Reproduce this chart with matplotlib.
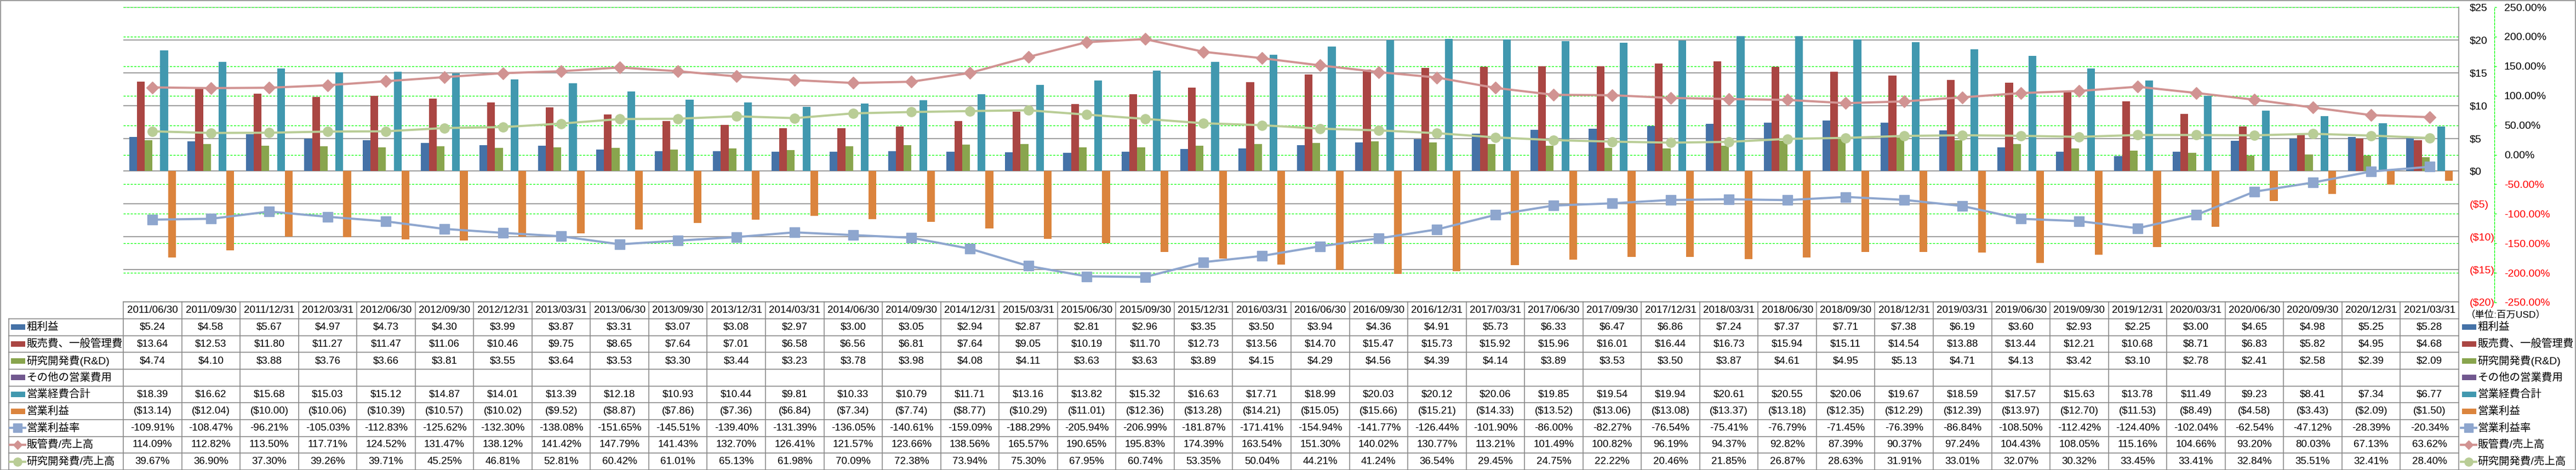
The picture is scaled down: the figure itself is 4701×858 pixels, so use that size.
import matplotlib
matplotlib.use('Agg')
import matplotlib.pyplot as plt
from matplotlib.transforms import blended_transform_factory
from matplotlib.lines import Line2D
from matplotlib.patches import Rectangle
import numpy as np

plt.rcParams['font.family'] = ['Liberation Sans', 'Noto Sans CJK JP', 'DejaVu Sans']

dates = ["2011/06/30", "2011/09/30", "2011/12/31", "2012/03/31", "2012/06/30", "2012/09/30",
         "2012/12/31", "2013/03/31", "2013/06/30", "2013/09/30", "2013/12/31", "2014/03/31",
         "2014/06/30", "2014/09/30", "2014/12/31", "2015/03/31", "2015/06/30", "2015/09/30",
         "2015/12/31", "2016/03/31", "2016/06/30", "2016/09/30", "2016/12/31", "2017/03/31",
         "2017/06/30", "2017/09/30", "2017/12/31", "2018/03/31", "2018/06/30", "2018/09/30",
         "2018/12/31", "2019/03/31", "2019/06/30", "2019/09/30", "2019/12/31", "2020/03/31",
         "2020/06/30", "2020/09/30", "2020/12/31", "2021/03/31"]

gross_profit = [5.24, 4.58, 5.67, 4.97, 4.73, 4.30, 3.99, 3.87, 3.31, 3.07, 3.08, 2.97, 3.00, 3.05,
                2.94, 2.87, 2.81, 2.96, 3.35, 3.50, 3.94, 4.36, 4.91, 5.73, 6.33, 6.47, 6.86, 7.24,
                7.37, 7.71, 7.38, 6.19, 3.60, 2.93, 2.25, 3.00, 4.65, 4.98, 5.25, 5.28]
sga = [13.64, 12.53, 11.80, 11.27, 11.47, 11.06, 10.46, 9.75, 8.65, 7.64, 7.01, 6.58, 6.56, 6.81,
       7.64, 9.05, 10.19, 11.70, 12.73, 13.56, 14.70, 15.47, 15.73, 15.92, 15.96, 16.01, 16.44,
       16.73, 15.94, 15.11, 14.54, 13.88, 13.44, 12.21, 10.68, 8.71, 6.83, 5.82, 4.95, 4.68]
rnd = [4.74, 4.10, 3.88, 3.76, 3.66, 3.81, 3.55, 3.64, 3.53, 3.30, 3.44, 3.23, 3.78, 3.98, 4.08,
       4.11, 3.63, 3.63, 3.89, 4.15, 4.29, 4.56, 4.39, 4.14, 3.89, 3.53, 3.50, 3.87, 4.61, 4.95,
       5.13, 4.71, 4.13, 3.42, 3.10, 2.78, 2.41, 2.58, 2.39, 2.09]
other_opex = [None] * 40
total_opex = [18.39, 16.62, 15.68, 15.03, 15.12, 14.87, 14.01, 13.39, 12.18, 10.93, 10.44, 9.81,
              10.33, 10.79, 11.71, 13.16, 13.82, 15.32, 16.63, 17.71, 18.99, 20.03, 20.12, 20.06,
              19.85, 19.54, 19.94, 20.61, 20.55, 20.06, 19.67, 18.59, 17.57, 15.63, 13.78, 11.49,
              9.23, 8.41, 7.34, 6.77]
op_income = [-13.14, -12.04, -10.00, -10.06, -10.39, -10.57, -10.02, -9.52, -8.87, -7.86, -7.36,
             -6.84, -7.34, -7.74, -8.77, -10.29, -11.01, -12.36, -13.28, -14.21, -15.05, -15.66,
             -15.21, -14.33, -13.52, -13.06, -13.08, -13.37, -13.18, -12.35, -12.29, -12.39,
             -13.97, -12.70, -11.53, -8.49, -4.58, -3.43, -2.09, -1.50]
op_margin = [-109.91, -108.47, -96.21, -105.03, -112.83, -125.62, -132.30, -138.08, -151.65,
             -145.51, -139.40, -131.39, -136.05, -140.61, -159.09, -188.29, -205.94, -206.99,
             -181.87, -171.41, -154.94, -141.77, -126.44, -101.90, -86.00, -82.27, -76.54,
             -75.41, -76.79, -71.45, -76.39, -86.84, -108.50, -112.42, -124.40, -102.04, -62.54,
             -47.12, -28.39, -20.34]
sga_ratio = [114.09, 112.82, 113.50, 117.71, 124.52, 131.47, 138.12, 141.42, 147.79, 141.43,
             132.70, 126.41, 121.57, 123.66, 138.56, 165.57, 190.65, 195.83, 174.39, 163.54,
             151.30, 140.02, 130.77, 113.21, 101.49, 100.82, 96.19, 94.37, 92.82, 87.39, 90.37,
             97.24, 104.43, 108.05, 115.16, 104.66, 93.20, 80.03, 67.13, 63.62]
rnd_ratio = [39.67, 36.90, 37.30, 39.26, 39.71, 45.25, 46.81, 52.81, 60.42, 61.01, 65.13, 61.98,
             70.09, 72.38, 73.94, 75.30, 67.95, 60.74, 53.35, 50.04, 44.21, 41.24, 36.54, 29.45,
             24.75, 22.22, 20.46, 21.85, 26.87, 28.63, 31.91, 33.01, 32.07, 30.32, 33.45, 33.41,
             32.84, 35.51, 32.41, 28.40]

bar_names = ["粗利益", "販売費、一般管理費", "研究開発費(R&D)", "その他の営業費用", "営業経費合計", "営業利益"]
line_names = ["営業利益率", "販管費/売上高", "研究開発費/売上高"]
unit_label = "（単位:百万USD）"

bar_colors = ["#4572A7", "#AA4643", "#89A54E", "#71588F", "#4198AF", "#DB843D"]
line_colors = ["#8EA6CE", "#D19392", "#B9CD96"]
line_markers = ["s", "D", "o"]
marker_sizes = [12.5, 11.5, 12.5]

W, H = 4701, 858
fig = plt.figure(figsize=(W / 100, H / 100), dpi=100)
PX = 0.72  # points per pixel


def fx(px):
    return px / W


def fy(py):
    return 1 - py / H


L, R, T, B = 225, 4487, 13, 552
ax = fig.add_axes([fx(L), fy(B), fx(R - L), (B - T) / H])
ax2 = ax.twinx()

n = len(dates)
x = np.arange(n)
bar_series = [gross_profit, sga, rnd, other_opex, total_opex, op_income]
bw = 1 / 7.5
for k, (vals, col) in enumerate(zip(bar_series, bar_colors)):
    if all(v is None for v in vals):
        continue
    v = np.array([np.nan if a is None else a for a in vals], dtype=float)
    ax.bar(x + (k - 2.5) * bw, v, width=bw, color=col, zorder=2, linewidth=0)

ax.set_xlim(-0.5, n - 0.5)
ax.set_ylim(-20, 25)
ax.set_yticks(np.arange(-20, 26, 5))
ax.yaxis.tick_right()
ax.set_xticks([])
ax.set_axisbelow(True)
ax.grid(axis='y', color='#868686', linewidth=1.6 * PX)
for s in ['top', 'left', 'bottom']:
    ax.spines[s].set_visible(False)
ax.spines['right'].set_color('#868686')
ax.spines['right'].set_linewidth(1.6 * PX)
ax.tick_params(axis='y', length=0, pad=20 * PX, labelsize=14)
ax.set_yticklabels([f"${int(v)}" if v >= 0 else f"(${int(-v)})" for v in ax.get_yticks()])
for lab, v in zip(ax.get_yticklabels(), ax.get_yticks()):
    lab.set_color('red' if v < 0 else 'black')
    lab.set_horizontalalignment('left')

# secondary axis (percent)
ax2.set_ylim(-250, 250)
pticks = np.arange(-250, 251, 50)
ax2.set_yticks(pticks)
ax2.patch.set_visible(False)
for s in ['top', 'left', 'bottom']:
    ax2.spines[s].set_visible(False)
ax2.spines['right'].set_position(('axes', (4552 - L) / (R - L)))
ax2.spines['right'].set_color('#00FF00')
ax2.spines['right'].set_linestyle((0, (3, 2)))
ax2.spines['right'].set_linewidth(1.3 * PX)
ax2.tick_params(axis='y', direction='out', length=4 * PX, width=1.3 * PX, color='#00FF00',
                pad=14 * PX, labelsize=14)
ax2.set_yticklabels([f"{v:.2f}%" for v in pticks])
for lab, v in zip(ax2.get_yticklabels(), pticks):
    lab.set_color('red' if v < 0 else 'black')

# secondary gridlines drawn beneath the bars
gtrans = blended_transform_factory(ax.transAxes, ax2.transData)
for p in pticks:
    ax.add_line(Line2D([0, 1], [p, p], transform=gtrans, color='#00FF00',
                       linewidth=1.3 * PX, linestyle=(0, (3, 2)), zorder=1))

line_series = [op_margin, sga_ratio, rnd_ratio]
for vals, col, mk, ms in zip(line_series, line_colors, line_markers, marker_sizes):
    ax2.plot(x, vals, color=col, linewidth=4 * PX, marker=mk, markersize=ms,
             markeredgecolor=col, markerfacecolor=col, solid_joinstyle='round', zorder=3)

# ---- data table ----
rowh = (H - 582) / 9
header_top = 582 - rowh
tx = blended_transform_factory(ax.transData, fig.transFigure)
gray = '#868686'
lw = 1.6 * PX
fig.add_artist(Line2D([-0.5, n - 0.5], [fy(header_top), fy(header_top)], transform=tx,
                      color=gray, linewidth=lw))
for r in range(10):
    yy = fy(582 + r * rowh)
    fig.add_artist(Line2D([fx(16), fx(R)], [yy, yy], transform=fig.transFigure, color=gray,
                          linewidth=lw))
for i in range(n + 1):
    fig.add_artist(Line2D([i - 0.5, i - 0.5], [fy(header_top), 0], transform=tx,
                          color=gray, linewidth=lw))
fig.add_artist(Line2D([fx(16), fx(16)], [fy(582), 0], transform=fig.transFigure, color=gray,
                      linewidth=lw))


def money(v):
    if v is None:
        return ""
    return f"${v:.2f}" if v >= 0 else f"(${-v:.2f})"


def pct(v):
    return f"{v:.2f}%"


for i, d in enumerate(dates):
    fig.text(i, fy(header_top + rowh / 2), d, transform=tx, ha='center', va='center',
             fontsize=13.5)

table_rows = [[money(v) for v in s] for s in bar_series] + \
             [[pct(v) for v in s] for s in line_series]
for r, row in enumerate(table_rows):
    yc = fy(582 + (r + 0.5) * rowh)
    for i, t in enumerate(row):
        if t:
            fig.text(i, yc, t, transform=tx, ha='center', va='center', fontsize=13.5)


def legend_key(xl, yc, idx):
    if idx < 6:
        fig.add_artist(Rectangle((fx(xl), yc - 5 / H), 26 / W, 10 / H, transform=fig.transFigure,
                                 color=bar_colors[idx], linewidth=0))
    else:
        j = idx - 6
        fig.add_artist(Line2D([fx(xl - 2), fx(xl + 26)], [yc, yc], transform=fig.transFigure,
                              color=line_colors[j], linewidth=4 * PX))
        fig.add_artist(Line2D([fx(xl + 12)], [yc], transform=fig.transFigure,
                              color=line_colors[j], marker=line_markers[j],
                              markersize=8 if line_markers[j] == 'D' else 11, linewidth=0))


all_names = bar_names + line_names
for r, name in enumerate(all_names):
    yc = fy(582 + (r + 0.5) * rowh)
    legend_key(20, yc, r)
    fig.text(fx(48), yc, name, ha='left', va='center', fontsize=14)
    legend_key(4493, yc, r)
    fig.text(fx(4521), yc, name, ha='left', va='center', fontsize=14)

fig.text(fx(4500), fy(574), unit_label, ha='left', va='center', fontsize=12.5)

# outer border
fig.add_artist(Rectangle((0.5 / W, 0.5 / H), 1 - 1.5 / W, 1 - 1.5 / H, transform=fig.transFigure,
                         fill=False, edgecolor=gray, linewidth=lw))

fig.savefig('out.png', dpi=100)
